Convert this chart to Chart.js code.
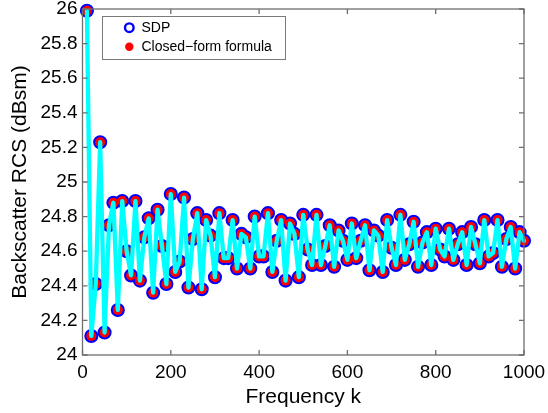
<!DOCTYPE html>
<html>
<head>
<meta charset="utf-8">
<script src="https://cdn.jsdelivr.net/npm/chart.js@4.4.0/dist/chart.umd.min.js"></script>
<style>
  body { margin: 0; background: #fff; }
  canvas { display: block; }
</style>
</head>
<body>
<canvas id="rcsChart" width="548" height="413"></canvas>
<script>
// frequency index k
var freqK = [10, 20, 30, 40, 50, 60, 70, 80, 90, 100,
    110, 120, 130, 140, 150, 160, 170, 180, 190, 200,
    210, 220, 230, 240, 250, 260, 270, 280, 290, 300,
    310, 320, 330, 340, 350, 360, 370, 380, 390, 400,
    410, 420, 430, 440, 450, 460, 470, 480, 490, 500,
    510, 520, 530, 540, 550, 560, 570, 580, 590, 600,
    610, 620, 630, 640, 650, 660, 670, 680, 690, 700,
    710, 720, 730, 740, 750, 760, 770, 780, 790, 800,
    810, 820, 830, 840, 850, 860, 870, 880, 890, 900,
    910, 920, 930, 940, 950, 960, 970, 980, 990, 1000];

// backscatter RCS (dBsm), SDP solution
var rcsSdp = [25.99, 24.11, 24.41, 25.23, 24.13, 24.75, 24.88, 24.26, 24.89, 24.60,
    24.46, 24.89, 24.43, 24.68, 24.79, 24.36, 24.84, 24.63, 24.41, 24.93,
    24.48, 24.54, 24.91, 24.39, 24.67, 24.82, 24.38, 24.78, 24.69, 24.45,
    24.82, 24.56, 24.56, 24.78, 24.50, 24.70, 24.68, 24.50, 24.80, 24.57,
    24.57, 24.82, 24.48, 24.66, 24.78, 24.43, 24.76, 24.70, 24.45, 24.81,
    24.61, 24.52, 24.81, 24.52, 24.63, 24.75, 24.51, 24.72, 24.66, 24.55,
    24.76, 24.56, 24.66, 24.75, 24.49, 24.72, 24.69, 24.48, 24.78, 24.62,
    24.52, 24.81, 24.55, 24.64, 24.77, 24.51, 24.65, 24.71, 24.52, 24.73,
    24.61, 24.57, 24.73, 24.55, 24.64, 24.71, 24.52, 24.74, 24.64, 24.53,
    24.78, 24.57, 24.59, 24.78, 24.51, 24.67, 24.74, 24.50, 24.71, 24.66];

// closed-form formula (coincides with SDP)
var rcsClosedForm = [25.99, 24.11, 24.41, 25.23, 24.13, 24.75, 24.88, 24.26, 24.89, 24.60,
    24.46, 24.89, 24.43, 24.68, 24.79, 24.36, 24.84, 24.63, 24.41, 24.93,
    24.48, 24.54, 24.91, 24.39, 24.67, 24.82, 24.38, 24.78, 24.69, 24.45,
    24.82, 24.56, 24.56, 24.78, 24.50, 24.70, 24.68, 24.50, 24.80, 24.57,
    24.57, 24.82, 24.48, 24.66, 24.78, 24.43, 24.76, 24.70, 24.45, 24.81,
    24.61, 24.52, 24.81, 24.52, 24.63, 24.75, 24.51, 24.72, 24.66, 24.55,
    24.76, 24.56, 24.66, 24.75, 24.49, 24.72, 24.69, 24.48, 24.78, 24.62,
    24.52, 24.81, 24.55, 24.64, 24.77, 24.51, 24.65, 24.71, 24.52, 24.73,
    24.61, 24.57, 24.73, 24.55, 24.64, 24.71, 24.52, 24.74, 24.64, 24.53,
    24.78, 24.57, 24.59, 24.78, 24.51, 24.67, 24.74, 24.50, 24.71, 24.66];

var xTicks = [0, 200, 400, 600, 800, 1000];
var yTicks = [24, 24.2, 24.4, 24.6, 24.8, 25, 25.2, 25.4, 25.6, 25.8, 26];

var legendLabels = ["SDP", "Closed\u2212form formula"];

var fontFamily = '"Liberation Sans", Arial, sans-serif';
Chart.defaults.font.family = fontFamily;
Chart.defaults.color = '#000';

function toPoints(xs, ys) {
    return xs.map(function (x, i) { return { x: x, y: ys[i] }; });
}

// box round the axes, inward ticks, and the legend box
var matlabFrame = {
    id: 'matlabFrame',
    afterDraw: function (chart) {
        var ctx = chart.ctx;
        var a = chart.chartArea;
        var xs = chart.scales.x, ys = chart.scales.y;
        var tl = 5;
        ctx.save();
        ctx.strokeStyle = '#6e6e6e';
        ctx.lineWidth = 1.3;
        ctx.strokeRect(a.left, a.top, a.right - a.left, a.bottom - a.top);
        ctx.beginPath();
        xTicks.forEach(function (v) {
            var px = xs.getPixelForValue(v);
            ctx.moveTo(px, a.bottom); ctx.lineTo(px, a.bottom - tl);
            ctx.moveTo(px, a.top); ctx.lineTo(px, a.top + tl);
        });
        yTicks.forEach(function (v) {
            var py = ys.getPixelForValue(v);
            ctx.moveTo(a.left, py); ctx.lineTo(a.left + tl, py);
            ctx.moveTo(a.right, py); ctx.lineTo(a.right - tl, py);
        });
        ctx.stroke();

        // legend
        var lx = 102, ly = 16, lw = 183, lh = 43;
        ctx.fillStyle = '#fff';
        ctx.fillRect(lx, ly, lw, lh);
        ctx.strokeStyle = '#7a7a7a';
        ctx.lineWidth = 1;
        ctx.strokeRect(lx + 0.5, ly + 0.5, lw, lh);

        ctx.beginPath();
        ctx.arc(129.3, 27.7, 4.3, 0, Math.PI * 2);
        ctx.fillStyle = '#fff';
        ctx.fill();
        ctx.strokeStyle = '#0000ff';
        ctx.lineWidth = 2.4;
        ctx.stroke();

        ctx.beginPath();
        ctx.arc(129.3, 46.7, 4.2, 0, Math.PI * 2);
        ctx.fillStyle = '#ff0000';
        ctx.fill();

        ctx.fillStyle = '#000';
        ctx.font = '14px ' + fontFamily;
        ctx.textBaseline = 'middle';
        ctx.textAlign = 'left';
        ctx.fillText(legendLabels[0], 141.5, 28);
        ctx.fillText(legendLabels[1], 141.5, 47);
        ctx.restore();
    }
};

var ctx = document.getElementById("rcsChart").getContext("2d");
var rcsChart = new Chart(ctx, {
    type: 'line',
    data: {
        datasets: [{
            label: 'line',
            data: toPoints(freqK, rcsSdp),
            borderColor: '#00ffff',
            borderWidth: 4.3,
            borderJoinStyle: 'round',
            borderCapStyle: 'round',
            pointRadius: 0,
            fill: false,
            tension: 0,
            clip: false,
            order: 1
        }, {
            label: legendLabels[1],
            data: toPoints(freqK, rcsClosedForm),
            showLine: false,
            pointRadius: 5,
            pointBorderWidth: 0,
            pointBackgroundColor: '#ff0000',
            pointBorderColor: '#ff0000',
            clip: false,
            order: 2
        }, {
            label: legendLabels[0],
            data: toPoints(freqK, rcsSdp),
            showLine: false,
            pointRadius: 5.8,
            pointBorderWidth: 2.5,
            pointBackgroundColor: '#0000ff',
            pointBorderColor: '#0000ff',
            clip: false,
            order: 3
        }]
    },
    options: {
        responsive: false,
        animation: false,
        layout: { padding: { left: 0, right: 24, top: 9, bottom: 0 } },
        plugins: {
            legend: { display: false },
            tooltip: { enabled: false }
        },
        scales: {
            x: {
                type: 'linear',
                min: 0,
                max: 1000,
                afterBuildTicks: function (s) {
                    s.ticks = xTicks.map(function (v) { return { value: v }; });
                },
                ticks: {
                    font: { size: 19 },
                    color: '#000',
                    padding: 6,
                    maxRotation: 0,
                    callback: function (v) { return String(v); }
                },
                grid: { display: false, drawTicks: false },
                border: { display: false },
                title: {
                    display: true,
                    text: 'Frequency k',
                    font: { size: 21 },
                    color: '#000',
                    padding: { top: 0, bottom: 3 }
                },
                afterFit: function (s) {
                    s.height = 58;
                    s.paddingLeft = 0;
                    s.paddingRight = 0;
                }
            },
            y: {
                type: 'linear',
                min: 24,
                max: 26,
                afterBuildTicks: function (s) {
                    s.ticks = yTicks.map(function (v) { return { value: v }; });
                },
                ticks: {
                    font: { size: 19 },
                    color: '#000',
                    padding: 5,
                    callback: function (v) { return String(+v.toFixed(1)); }
                },
                grid: { display: false, drawTicks: false },
                border: { display: false },
                title: {
                    display: true,
                    text: 'Backscatter RCS (dBsm)',
                    font: { size: 21 },
                    color: '#000',
                    padding: { top: 8, bottom: 0 }
                },
                afterFit: function (s) {
                    s.width = 82.5;
                    s.paddingTop = 0;
                    s.paddingBottom = 0;
                }
            }
        }
    },
    plugins: [matlabFrame]
});
</script>
</body>
</html>
